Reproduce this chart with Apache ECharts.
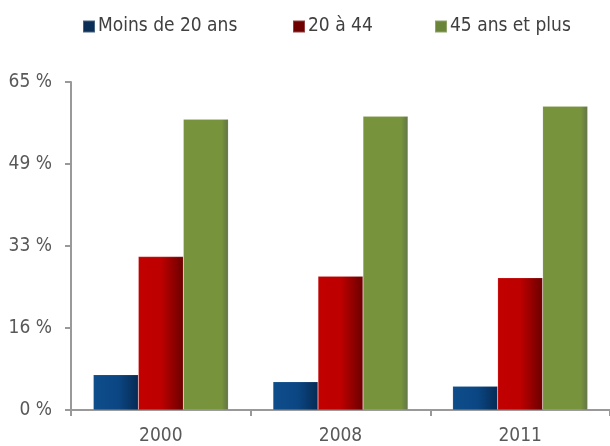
<!DOCTYPE html>
<html>
<head>
<meta charset="utf-8">
<script src="https://cdn.jsdelivr.net/npm/echarts@6/dist/echarts.min.js"></script>
<style>
html,body{margin:0;padding:0;background:#fff;}
#chart{width:610px;height:446px;}
</style>
</head>
<body>
<div id="chart"></div>
<script>
const categories = ['2000', '2008', '2011'];
const seriesNames = ['Moins de 20 ans', '20 à 44', '45 ans et plus'];
const moins20 = [7.0, 5.6, 4.7];
const age20a44 = [30.4, 26.5, 26.2];
const age45plus = [57.6, 58.2, 60.2];
const yTicks = [0, 16.25, 32.5, 48.75, 65];

const FONT = '"Liberation Sans Narrow", "DejaVu Sans Condensed", "Liberation Sans", sans-serif';

function grad(stops) {
  return new echarts.graphic.LinearGradient(0, 0, 1, 0, stops.map((c) => ({offset: c[0], color: c[1]})));
}
const colors = [
  grad([[0, '#0e4d8b'], [0.55, '#0b4683'], [1, '#062b54']]),
  grad([[0, '#c20000'], [0.5, '#be0000'], [1, '#6c0000']]),
  grad([[0, '#77933c'], [0.85, '#77933c'], [1, '#627449']])
];
const legendColors = ['#0a2e55', '#6e0000', '#6a843a'];
const legendLefts = [77, 287, 429];
const data = [moins20, age20a44, age45plus];

const chart = echarts.init(document.getElementById('chart'), null, {renderer: 'canvas'});
chart.setOption({
  animation: false,
  backgroundColor: '#ffffff',
  textStyle: {fontFamily: FONT},
  legend: seriesNames.map((n, i) => ({
    top: 12,
    left: legendLefts[i],
    itemWidth: 12,
    itemHeight: 12,
    icon: 'rect',
    selectedMode: false,
    textStyle: {fontFamily: FONT, fontSize: 19, color: '#404040', padding: [0, 0, 0, -2]},
    data: [{name: n, itemStyle: {color: legendColors[i]}}]
  })),
  grid: {left: 71, right: -4, top: 82, bottom: 34.5, containLabel: false},
  xAxis: {
    type: 'category',
    data: categories,
    axisLine: {lineStyle: {color: '#999999', width: 2}},
    axisTick: {show: true, length: 6, lineStyle: {color: '#999999', width: 2}},
    axisLabel: {fontFamily: FONT, fontSize: 19, color: '#595959', margin: 17}
  },
  yAxis: {
    type: 'value',
    min: yTicks[0],
    max: yTicks[yTicks.length - 1],
    interval: yTicks[1] - yTicks[0],
    splitLine: {show: false},
    axisLine: {show: true, lineStyle: {color: '#999999', width: 2}},
    axisTick: {show: true, length: 6, lineStyle: {color: '#999999', width: 2}},
    axisLabel: {fontFamily: FONT, fontSize: 19, color: '#595959', margin: 19,
      formatter: v => Math.round(v) + ' %'}
  },
  series: seriesNames.map((n, i) => ({
    name: n,
    type: 'bar',
    data: data[i],
    barWidth: 45,
    barGap: '0%',
    itemStyle: {color: colors[i], borderColor: 'rgba(255,255,255,0.25)', borderWidth: 0.5}
  }))
});
</script>
</body>
</html>
